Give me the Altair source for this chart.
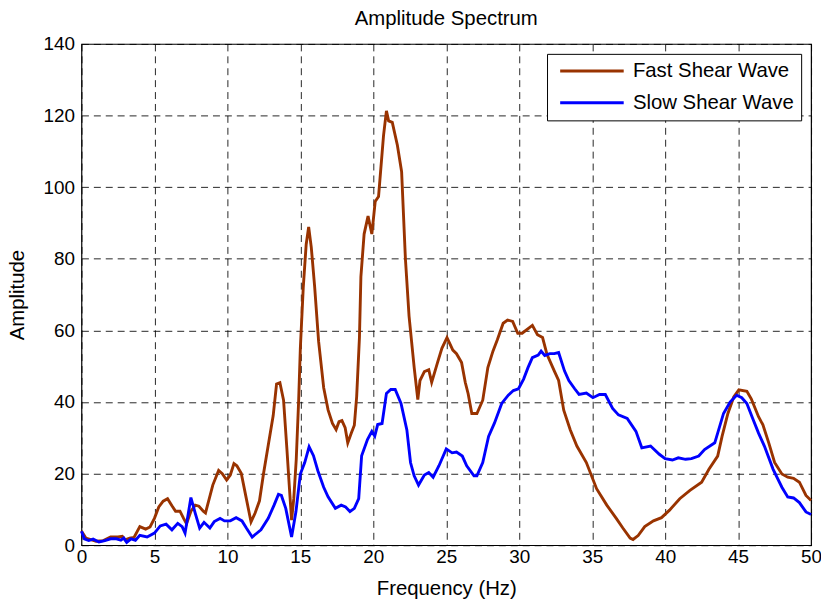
import altair as alt
import pandas as pd

fast_x = [0.0, 0.3, 0.7, 1.0, 1.5, 2.0, 2.5, 2.8, 3.0, 3.3, 3.6, 4.0, 4.4, 4.7, 5.0, 5.3, 5.6, 5.9,
          6.2, 6.45, 6.75, 7.0, 7.2, 7.5, 7.8, 8.05, 8.35, 8.5, 9.0, 9.4, 9.65, 9.95, 10.2, 10.45,
          10.65, 10.95, 11.25, 11.62, 11.9, 12.2, 12.47, 12.8, 13.14, 13.37, 13.6, 13.85, 14.08,
          14.24, 14.4, 14.55, 14.72, 14.88, 15.0, 15.2, 15.4, 15.57, 15.75, 15.98, 16.25, 16.6,
          16.9, 17.2, 17.45, 17.65, 17.85, 18.07, 18.25, 18.5, 18.7, 18.86, 19.05, 19.15, 19.37,
          19.64, 19.9, 20.13, 20.36, 20.7, 20.9, 21.05, 21.3, 21.65, 21.94, 22.2, 22.45, 22.8,
          23.05, 23.2, 23.5, 23.8, 24.0, 24.4, 24.7, 25.05, 25.45, 25.7, 26.05, 26.3, 26.5, 26.75,
          27.1, 27.5, 27.85, 28.2, 28.5, 28.9, 29.2, 29.55, 29.9, 30.2, 30.7, 30.9, 31.25, 31.6,
          31.9, 32.4, 32.7, 33.05, 33.5, 33.95, 34.6, 35.3, 36.0, 36.65, 37.1, 37.6, 37.8, 38.15,
          38.6, 39.2, 39.75, 40.3, 41.0, 41.7, 42.5, 43.0, 43.6, 43.9, 44.3, 44.7, 45.05, 45.6,
          45.9, 46.4, 46.7, 47.1, 47.5, 48.0, 48.4, 48.8, 49.2, 49.65, 50.0]
fast_y = [4.0, 2.0, 1.5, 1.1, 1.3, 2.3, 2.3, 2.5, 1.5, 2.0, 2.2, 5.2, 4.5, 5.1, 7.5, 10.7, 12.3, 13.0,
          11.0, 9.5, 9.5, 7.5, 6.0, 9.5, 11.2, 10.9, 9.5, 9.0, 16.8, 20.9, 20.0, 18.2, 19.6, 22.8,
          22.2, 20.1, 14.0, 6.5, 9.0, 12.4, 19.8, 27.9, 36.2, 45.0, 45.4, 40.5, 26.8,
          16.7, 7.0, 13.0, 24.0, 40.0, 55.0, 72.0, 84.0, 88.9, 83.2, 72.2, 57.0, 44.0,
          37.8, 34.0, 32.3, 34.5, 34.8, 32.8, 28.6, 31.4, 33.5, 41.5, 58.0, 75.0, 86.9,
          91.9, 86.9, 96.0, 97.4, 114.4, 121.3, 118.5, 118.1, 111.7, 104.3, 80.0, 64.0, 49.7,
          40.7, 46.0, 48.5, 49.0, 45.5, 51.0, 55.0, 58.0, 54.5, 53.5, 51.0, 45.5, 42.3, 36.8,
          36.8, 40.5, 49.6, 54.2, 57.4, 62.0, 62.9, 62.5, 59.2, 59.2, 60.8, 61.4, 58.8, 58.0,
          53.3, 48.7, 46.0, 37.7, 32.2, 27.7, 23.1, 15.8, 11.2, 7.5, 4.8, 2.0, 1.6, 2.7,
          5.2, 6.8, 7.7, 9.8, 13.0, 15.3, 17.6, 21.2, 24.9, 30.4, 36.8, 41.4, 43.4, 43.0,
          40.9, 35.9, 33.6, 28.6, 23.1, 19.9, 19.0, 18.7, 17.6, 13.9, 12.5]

slow_x = [0.0, 0.2, 0.5, 0.8, 1.2, 1.6, 2.0, 2.4, 2.7, 2.9, 3.1, 3.4, 3.7, 4.0, 4.5, 5.0, 5.4, 5.8,
          6.2, 6.6, 6.9, 7.1, 7.5, 7.8, 8.1, 8.4, 8.8, 9.1, 9.5, 9.8, 10.2, 10.6, 11.0, 11.3, 11.7,
          12.3, 12.8, 13.2, 13.5, 13.7, 14.0, 14.4, 14.7, 15.0, 15.3, 15.6, 15.9, 16.2, 16.6,
          16.9, 17.4, 17.8, 18.1, 18.4, 18.7, 19.0, 19.2, 19.6, 19.9, 20.1, 20.3, 20.6, 20.9,
          21.2, 21.5, 21.9, 22.3, 22.55, 22.8, 23.1, 23.5, 23.8, 24.1, 24.5, 25.0, 25.4, 25.7,
          26.1, 26.4, 26.9, 27.1, 27.5, 27.9, 28.3, 28.8, 29.25, 29.6, 29.95, 30.3, 30.6, 30.9,
          31.3, 31.5, 31.75, 32.1, 32.4, 32.7, 33.1, 33.4, 33.8, 34.1, 34.6, 35.05, 35.5, 35.9,
          36.4, 36.8, 37.4, 38.0, 38.4, 39.0, 39.6, 40.0, 40.5, 40.9, 41.4, 41.8, 42.3, 42.7,
          43.4, 44.0, 44.45, 44.9, 45.25, 45.6, 46.0, 46.4, 46.8, 47.4, 48.0, 48.4, 48.8, 49.2,
          49.65, 50.0]
slow_y = [3.9, 1.8, 1.3, 1.7, 0.9, 1.3, 1.8, 1.8, 1.4, 2.0, 0.8, 1.8, 1.4, 2.75, 2.3, 3.4, 5.4, 5.9,
          4.3, 6.1, 5.2, 3.4, 13.3, 8.9, 4.8, 6.4, 4.8, 6.6, 7.5, 6.8, 6.8, 7.7, 6.8, 4.8, 2.3,
          4.3, 7.5, 11.2, 14.2, 13.9, 10.3, 2.3, 9.4, 19.9, 23.1, 27.5, 25.0, 20.8, 16.2,
          13.5, 10.3, 11.2, 10.7, 9.4, 10.3, 13.0, 25.0, 29.5, 31.8, 30.5, 33.7, 34.0, 42.4,
          43.5, 43.5, 39.6, 32.2, 23.1, 19.4, 16.8, 19.6, 20.3, 19.0, 22.2, 26.9, 25.8, 26.0,
          24.9, 22.2, 19.4, 19.4, 23.1, 30.4, 34.1, 39.6, 41.9, 43.2, 43.7, 46.4, 49.6, 52.4,
          53.1, 54.2, 53.0, 53.5, 53.5, 53.8, 48.7, 46.0, 43.7, 42.1, 42.5, 41.2, 42.1, 42.1,
          38.2, 36.4, 35.4, 31.8, 27.2, 27.7, 25.4, 24.2, 23.8, 24.4, 24.0, 24.2, 24.9, 26.7,
          28.6, 36.8, 40.0, 41.9, 41.2, 39.6, 35.4, 31.3, 27.7, 21.2, 16.2, 13.5, 13.2, 11.9,
          9.3, 8.6]

series = ["Fast Shear Wave", "Slow Shear Wave"]
colors = ["#993300", "#0000FF"]
x_ticks = list(range(0, 51, 5))
y_ticks = list(range(0, 141, 20))

df = pd.concat([
    pd.DataFrame({"f": fast_x, "a": fast_y, "s": series[0], "o": range(len(fast_x))}),
    pd.DataFrame({"f": slow_x, "a": slow_y, "s": series[1], "o": range(len(slow_x))}),
])

FONT = "Liberation Sans"

chart = alt.Chart(df).mark_line(strokeWidth=2.9).encode(
    x=alt.X("f:Q", title="Frequency (Hz)",
            scale=alt.Scale(domain=[0, 50], nice=False, zero=False),
            axis=alt.Axis(values=x_ticks, format="d", labelFontSize=19, titleFontSize=20.5,
                          labelPadding=2, titlePadding=13, ticks=False, domain=False,
                          grid=True, gridColor="#000000", gridDash=[7, 5], gridWidth=1,
                          gridOpacity=0.85, labelFlush=False, labelColor="#000",
                          titleColor="#000", titleFontWeight="normal")),
    y=alt.Y("a:Q", title="Amplitude",
            scale=alt.Scale(domain=[0, 140], nice=False),
            axis=alt.Axis(values=y_ticks, format="d", labelFontSize=19, titleFontSize=20.5,
                          labelPadding=7, titlePadding=16, ticks=False, domain=False,
                          grid=True, gridColor="#000000", gridDash=[7, 5], gridWidth=1,
                          gridOpacity=0.85, labelColor="#000", titleColor="#000",
                          titleFontWeight="normal")),
    color=alt.Color("s:N", scale=alt.Scale(domain=series, range=colors),
                    legend=alt.Legend(orient="none", legendX=469, legendY=10, title=None,
                                      symbolType="M-0.5,0H7.5", symbolSize=256,
                                      symbolStrokeWidth=3, labelFontSize=20.5,
                                      labelOffset=59, labelLimit=400, padding=7, rowPadding=11,
                                      strokeColor="#000", fillColor="#ffffff",
                                      cornerRadius=0, labelColor="#000")),
    order="o:Q",
).properties(
    width=735, height=505,
    title=alt.TitleParams("Amplitude Spectrum", fontSize=20.5, fontWeight="normal",
                          font=FONT, anchor="middle", offset=6, color="#000"),
    autosize=alt.AutoSizeParams(type="none"),
    padding={"left": 74, "top": 34, "right": 10, "bottom": 56},
).configure(font=FONT, background="#ffffff").configure_view(stroke="#000", strokeWidth=1.2)

chart.save("out.html", embed_options={"renderer": "svg", "actions": False})
